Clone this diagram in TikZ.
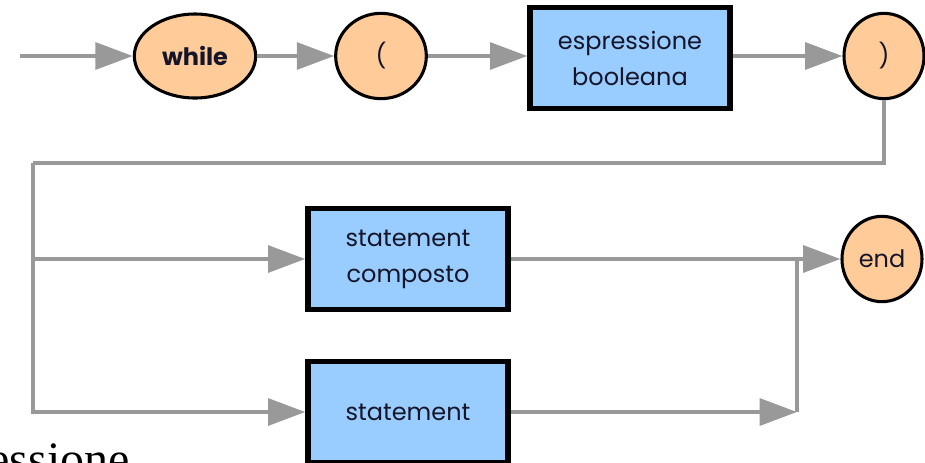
\documentclass[tikz,border=0pt]{standalone}
\usepackage{fontspec}
\setmainfont{Poppins}
\newfontfamily\serifface{Liberation Serif}
\usetikzlibrary{arrows.meta,shapes.geometric}
\definecolor{termfill}{HTML}{FFCC99}
\definecolor{nontermfill}{HTML}{99CCFF}
\definecolor{wire}{HTML}{999999}
\definecolor{ink}{HTML}{15152A}

\begin{document}
\begin{tikzpicture}[x=0.75pt,y=-0.75pt,
  term/.style={ellipse, draw=black, line width=2.3pt, fill=termfill, inner sep=0pt,
    text=ink, font=\fontsize{18}{22}\selectfont},
  nonterm/.style={rectangle, draw=black, line width=4pt, fill=nontermfill,
    minimum width=150pt, minimum height=76pt, align=center, text=ink,
    font=\fontsize{18}{27}\selectfont},
  flow/.style={draw=wire, line width=3.2pt},
  arr/.style={flow, -{Triangle[length=28pt,width=20pt]}}]

  \useasboundingbox (0,0) rectangle (925,462);
  \clip (0,0) rectangle (925,462);

  % terminal symbols (ellipses) and non-terminals (boxes)
  \node[term, minimum width=91pt, minimum height=63pt, font=\fontsize{18}{22}\selectfont\bfseries] (while) at (195,56) {while};
  \node[term, minimum width=68pt, minimum height=64pt] (lp) at (381,56) {(};
  \node[nonterm] (expr) at (630,58) {espressione\\booleana};
  \node[term, minimum width=60pt, minimum height=64pt] (rp) at (884,56) {)};
  \node[nonterm] (comp) at (408,259) {statement\\composto};
  \node[nonterm] (stmt) at (408,412) {statement};
  \node[term, minimum width=60pt, minimum height=64pt] (endn) at (882,259) {end};

  % routing points
  \coordinate (start) at (20,56);
  \coordinate (split) at (33,163);
  \coordinate (fork) at (split |- comp.west);
  \coordinate (join) at (797,412);

  % connectors
  \draw[arr] (start) -- (while);
  \draw[arr] (while) -- (lp);
  \draw[arr] (lp) -- (expr.west |- lp);
  \draw[arr] (expr.east |- rp) -- (rp);
  \draw[flow] (rp.south) |- (split);
  \draw[arr] (split) |- (stmt.west);
  \draw[arr] (fork) -- (comp.west);
  \draw[arr] (comp.east) -- (endn.west);
  \draw[arr] (stmt.east) -- (join);
  \draw[flow] (join) -- (join |- comp.east);

  % running text below the diagram
  \node[anchor=base east, inner sep=0pt, font=\serifface\fontsize{36}{36}\selectfont] (tail) at (130,475) {essione};
\end{tikzpicture}
\end{document}
